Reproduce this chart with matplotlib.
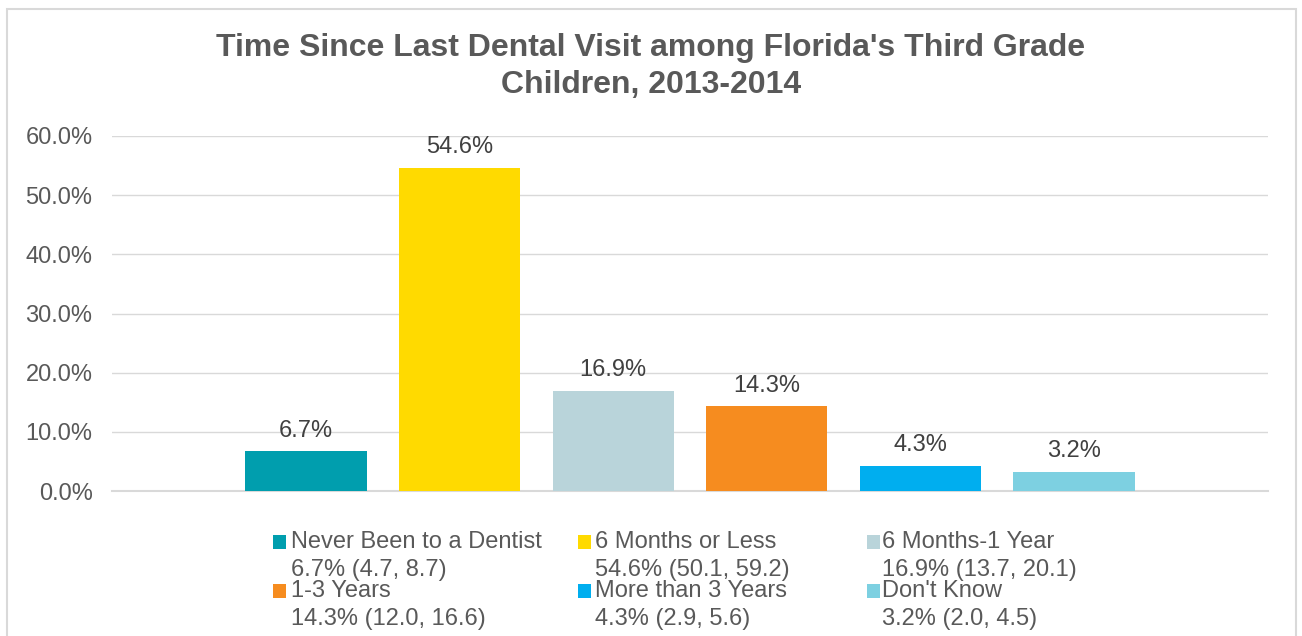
import matplotlib
matplotlib.use('Agg')
import matplotlib.pyplot as plt
import matplotlib.patches as mpatches
from matplotlib.ticker import FuncFormatter

plt.rcParams['font.family'] = ['Liberation Sans', 'DejaVu Sans']

# Data
categories = ['Never Been to a Dentist', '6 Months or Less', '6 Months-1 Year',
              '1-3 Years', 'More than 3 Years', "Don't Know"]
values = [6.7, 54.6, 16.9, 14.3, 4.3, 3.2]
ci_low = [4.7, 50.1, 13.7, 12.0, 2.9, 2.0]
ci_high = [8.7, 59.2, 20.1, 16.6, 5.6, 4.5]
colors = ['#009EAE', '#FFDA00', '#B9D4DA', '#F68C1F', '#00AEEF', '#7DD0E1']

text_color = '#595959'
grid_color = '#D9D9D9'
fs = 17

W, H = 1302, 636
fig = plt.figure(figsize=(W / 100, H / 100), dpi=100)

# chart border (bottom edge runs off the image)
fig.patches.append(mpatches.Rectangle((6.5 / W, -0.05), (1296 - 6.5) / W, 1.05 - 9 / H,
                                      transform=fig.transFigure, fill=False,
                                      edgecolor='#D9D9D9', linewidth=1.5))

ax = fig.add_axes([112 / W, 1 - 491 / H, (1268 - 112) / W, (491 - 136) / H])

x = list(range(len(values)))
ax.bar(x, values, width=0.79, color=colors, zorder=3)
for xi, v in zip(x, values):
    ax.annotate(f'{v:.1f}%', (xi, v), xytext=(0, 7), textcoords='offset points',
                ha='center', va='bottom', fontsize=fs, color='#404040')

ax.set_xlim(-1.263, 6.263)
ax.set_ylim(0, 60)
ax.set_yticks(range(0, 61, 10))
ax.yaxis.set_major_formatter(FuncFormatter(lambda v, p: f'{v:.1f}%'))
ax.tick_params(axis='y', length=0, pad=14, labelsize=fs, labelcolor=text_color)
ax.set_xticks([])
ax.grid(True, axis='y', color=grid_color, linewidth=1, zorder=0)
for side in ['top', 'right', 'left']:
    ax.spines[side].set_visible(False)
ax.spines['bottom'].set_color(grid_color)
ax.spines['bottom'].set_linewidth(1.5)

fig.text(0.5, 1 - 48 / H, "Time Since Last Dental Visit among Florida's Third Grade",
         ha='center', va='center', fontsize=23, fontweight='bold', color=text_color)
fig.text(0.5, 1 - 85 / H, 'Children, 2013-2014',
         ha='center', va='center', fontsize=23, fontweight='bold', color=text_color)

# Legend laid out like the original: 3 columns, 2 rows, two-line entries
col_marker_x = [273, 578, 867]
col_text_x = [291, 595, 882]
row_y = [542, 591]
line_gap = 28
for i, (cat, c) in enumerate(zip(categories, colors)):
    col, row = i % 3, i // 3
    y1 = row_y[row]
    fig.patches.append(mpatches.Rectangle((col_marker_x[col] / W, 1 - (y1 + 7) / H),
                                          13 / W, 14 / H, transform=fig.transFigure,
                                          facecolor=c, edgecolor='none'))
    fig.text(col_text_x[col] / W, 1 - y1 / H, cat, ha='left', va='center',
             fontsize=fs, color=text_color)
    fig.text(col_text_x[col] / W, 1 - (y1 + line_gap) / H,
             f'{values[i]:.1f}% ({ci_low[i]:.1f}, {ci_high[i]:.1f})',
             ha='left', va='center', fontsize=fs, color=text_color)

fig.savefig('out.png', dpi=100, facecolor='white')
